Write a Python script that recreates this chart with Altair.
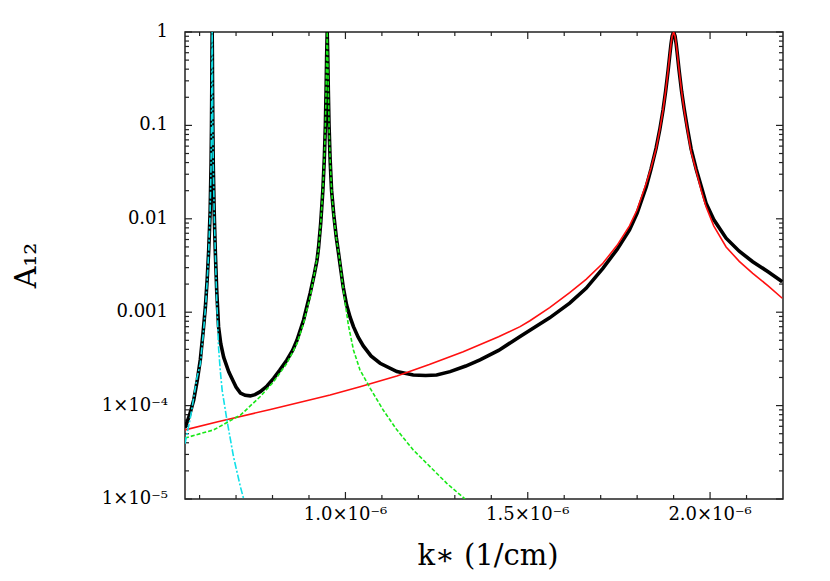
import altair as alt
import pandas as pd

# k in units of 1e-6 (1/cm), A12 dimensionless (log axis)
BLACK_K = [0.560, 0.572, 0.584, 0.594, 0.602, 0.610, 0.616, 0.621, 0.625, 0.629,
           0.6315, 0.6327, 0.6335, 0.634, 0.6345, 0.635, 0.6355, 0.6363, 0.6375, 0.640,
           0.643, 0.647, 0.652, 0.658, 0.666, 0.680, 0.693, 0.700, 0.712, 0.725,
           0.739, 0.752, 0.7665, 0.785, 0.803, 0.820, 0.8395, 0.855, 0.867, 0.885,
           0.9033, 0.915, 0.922, 0.926, 0.932, 0.938, 0.942, 0.945, 0.947, 0.9485,
           0.950, 0.9515, 0.953, 0.955, 0.958, 0.962, 0.968, 0.975, 0.981, 0.987,
           0.994, 1.003, 1.013, 1.022, 1.035, 1.049, 1.070, 1.095, 1.141, 1.186,
           1.220, 1.250, 1.287, 1.330, 1.369, 1.420, 1.479, 1.506, 1.560, 1.615,
           1.660, 1.706, 1.745, 1.779, 1.800, 1.825, 1.838, 1.852, 1.862, 1.871,
           1.878, 1.885, 1.890, 1.893, 1.896, 1.900, 1.904, 1.907, 1.910, 1.915,
           1.922, 1.929, 1.938, 1.948, 1.962, 1.976, 1.989, 2.010, 2.044, 2.080,
           2.117, 2.160, 2.198]
BLACK_A = [5.8e-5, 7.8e-5, 1.15e-4, 1.9e-4, 3.1e-4, 6.3e-4, 1.15e-3, 2.3e-3, 4.6e-3, 0.012,
           0.038, 0.1, 0.26, 0.6, 1.0, 0.6, 0.26, 0.1, 0.038, 0.012,
           4.6e-3, 1.7e-3, 7.0e-4, 4.6e-4, 3.3e-4, 2.3e-4, 1.8e-4, 1.58e-4, 1.36e-4, 1.29e-4,
           1.27e-4, 1.31e-4, 1.41e-4, 1.62e-4, 1.96e-4, 2.4e-4, 3.08e-4, 3.9e-4, 5.0e-4, 8.2e-4,
           1.6e-3, 2.6e-3, 3.6e-3, 4.8e-3, 8.8e-3, 0.02, 0.043, 0.10, 0.24, 0.55,
           1.0, 0.55, 0.24, 0.10, 0.043, 0.02, 0.011, 6.3e-3, 4.3e-3, 2.9e-3,
           1.85e-3, 1.2e-3, 8.8e-4, 7.0e-4, 5.4e-4, 4.35e-4, 3.4e-4, 2.84e-4, 2.31e-4, 2.13e-4,
           2.10e-4, 2.13e-4, 2.31e-4, 2.65e-4, 3.08e-4, 3.9e-4, 5.5e-4, 6.4e-4, 8.7e-4, 1.25e-3,
           1.8e-3, 2.95e-3, 4.7e-3, 7.6e-3, 0.0115, 0.022, 0.034, 0.057, 0.09, 0.146,
           0.23, 0.39, 0.59, 0.75, 0.9, 1.0, 0.9, 0.75, 0.59, 0.39,
           0.23, 0.15, 0.092, 0.056, 0.034, 0.022, 0.0147, 9.8e-3, 6.2e-3, 4.5e-3,
           3.47e-3, 2.7e-3, 2.12e-3]

RED_K = [0.560, 0.650, 0.794, 0.958, 1.040, 1.141, 1.230, 1.323, 1.420, 1.479,
         1.506, 1.560, 1.615, 1.660, 1.706, 1.745, 1.779, 1.800, 1.825, 1.838,
         1.852, 1.862, 1.871, 1.878, 1.885, 1.890, 1.893, 1.896, 1.900, 1.904,
         1.907, 1.910, 1.915, 1.922, 1.929, 1.938, 1.948, 1.962, 1.976, 1.989,
         2.010, 2.044, 2.080, 2.117, 2.160, 2.198]
RED_A = [5.5e-5, 6.7e-5, 9.1e-5, 1.30e-4, 1.59e-4, 2.07e-4, 2.75e-4, 3.78e-4, 5.45e-4, 7.0e-4,
         8.1e-4, 1.12e-3, 1.62e-3, 2.25e-3, 3.34e-3, 5.2e-3, 8.4e-3, 0.0125, 0.024, 0.035,
         0.056, 0.09, 0.146, 0.23, 0.39, 0.59, 0.75, 0.9, 1.0, 0.9,
         0.75, 0.59, 0.39, 0.23, 0.146, 0.088, 0.052, 0.0325, 0.020, 0.0135,
         8.4e-3, 5.0e-3, 3.5e-3, 2.61e-3, 1.9e-3, 1.41e-3]

GREEN_K = [0.560, 0.639, 0.698, 0.712, 0.7665, 0.803, 0.8395, 0.867, 0.885, 0.9033,
           0.917, 0.926, 0.932, 0.938, 0.942, 0.945, 0.947, 0.9485, 0.950, 0.9515,
           0.953, 0.955, 0.958, 0.962, 0.968, 0.975, 0.982, 0.9945, 1.008, 1.022,
           1.040, 1.068, 1.104, 1.141, 1.186, 1.232, 1.278, 1.328]
GREEN_A = [4.5e-5, 5.5e-5, 7.4e-5, 7.9e-5, 1.25e-4, 1.80e-4, 2.84e-4, 4.6e-4, 7.6e-4, 1.47e-3,
           2.83e-3, 4.6e-3, 8.8e-3, 0.02, 0.043, 0.10, 0.24, 0.55, 1.0, 0.55,
           0.24, 0.10, 0.043, 0.02, 0.0105, 6.2e-3, 4.2e-3, 1.7e-3, 7.3e-4, 3.94e-4,
           2.4e-4, 1.53e-4, 8.9e-5, 5.5e-5, 3.35e-5, 2.22e-5, 1.47e-5, 1.0e-5]

CYAN_K = [0.560, 0.575, 0.593, 0.602, 0.610, 0.616, 0.621, 0.625, 0.629, 0.6315,
          0.6327, 0.6335, 0.634, 0.6345, 0.635, 0.6355, 0.6363, 0.6375, 0.640, 0.643,
          0.647, 0.652, 0.657, 0.662, 0.675, 0.693, 0.712, 0.721]
CYAN_A = [3.9e-5, 7.5e-5, 2.0e-4, 2.8e-4, 5.8e-4, 1.1e-3, 2.2e-3, 4.5e-3, 0.012, 0.038,
          0.1, 0.26, 0.6, 1.0, 0.6, 0.26, 0.1, 0.038, 0.012, 4.5e-3,
          1.4e-3, 4.2e-4, 2.3e-4, 1.45e-4, 7.0e-5, 2.84e-5, 1.35e-5, 1.0e-5]

X_DOMAIN = [0.56, 2.2]
Y_DOMAIN = [1e-5, 1.0]
X_MAJOR = [1.0, 1.5, 2.0]
X_LABELS = ["1.0×10⁻⁶", "1.5×10⁻⁶", "2.0×10⁻⁶"]
X_MINOR = [0.6, 0.7, 0.8, 0.9, 1.1, 1.2, 1.3, 1.4, 1.6, 1.7, 1.8, 1.9, 2.1]
Y_MAJOR = [1e-5, 1e-4, 1e-3, 1e-2, 1e-1, 1.0]
Y_LABELS = ["1×10⁻⁵", "1×10⁻⁴", "0.001", "0.01", "0.1", "1"]
Y_MINOR = [m * d for d in [1e-5, 1e-4, 1e-3, 1e-2, 1e-1] for m in range(2, 10)]
X_TITLE = "k∗ (1/cm)"
Y_TITLE = "A₁₂"

W, H = 598, 467
MAJOR_LEN, MINOR_LEN = 7, 4
FONT = "DejaVu Serif"
TICK = "#222222"

xs = alt.Scale(domain=X_DOMAIN, nice=False, zero=False)
ys = alt.Scale(type="log", domain=Y_DOMAIN, nice=False)


def y_ticks(values, length, side):
    df = pd.DataFrame({"A": values})
    x0, x1 = (0, length) if side == "left" else (W - length, W)
    return alt.Chart(df).mark_rule(color=TICK, strokeWidth=1.2).encode(
        y=alt.Y("A:Q", scale=ys, axis=None),
        x=alt.value(x0), x2=alt.value(x1))


def x_ticks(values, length, side):
    df = pd.DataFrame({"k": values})
    y0, y1 = (H - length, H) if side == "bottom" else (0, length)
    return alt.Chart(df).mark_rule(color=TICK, strokeWidth=1.2).encode(
        x=alt.X("k:Q", scale=xs, axis=None),
        y=alt.value(y0), y2=alt.value(y1))


def line_layer(k, a, color, width, dash=None):
    df = pd.DataFrame({"k": k, "A": a})
    kw = dict(color=color, strokeWidth=width, clip=True)
    if dash:
        kw["strokeDash"] = dash
    return alt.Chart(df).mark_line(**kw).encode(
        x=alt.X("k:Q", scale=xs, axis=None),
        y=alt.Y("A:Q", scale=ys, axis=None))


# tick labels as text placed through the same scales
y_labels = alt.Chart(pd.DataFrame({"A": Y_MAJOR, "lab": Y_LABELS})).mark_text(
    font=FONT, fontSize=18, color="#000", align="right", baseline="middle"
).encode(y=alt.Y("A:Q", scale=ys, axis=None), x=alt.value(-17), text="lab:N")

x_labels = alt.Chart(pd.DataFrame({"k": X_MAJOR, "lab": X_LABELS})).mark_text(
    font=FONT, fontSize=18, color="#000", align="center", baseline="top"
).encode(x=alt.X("k:Q", scale=xs, axis=None), y=alt.value(H + 7), text="lab:N")

x_title = alt.Chart(pd.DataFrame({"t": [X_TITLE]})).mark_text(
    font=FONT, fontSize=29, color="#000", align="center", baseline="alphabetic"
).encode(x=alt.value(303), y=alt.value(H + 66), text="t:N")

y_title = alt.Chart(pd.DataFrame({"t": [Y_TITLE]})).mark_text(
    font=FONT, fontSize=30, color="#000", align="center", baseline="middle",
    angle=270
).encode(x=alt.value(-158), y=alt.value(H / 2), text="t:N")

layers = []
for side in ["left", "right"]:
    layers.append(y_ticks(Y_MAJOR, MAJOR_LEN, side))
    layers.append(y_ticks(Y_MINOR, MINOR_LEN, side))
for side in ["bottom", "top"]:
    layers.append(x_ticks(X_MAJOR, MAJOR_LEN, side))
    layers.append(x_ticks(X_MINOR, MINOR_LEN, side))
layers += [
    line_layer(BLACK_K, BLACK_A, "#000000", 3.6),
    line_layer(RED_K, RED_A, "#ff1010", 1.6),
    line_layer(GREEN_K, GREEN_A, "#18e818", 1.6, [4, 2]),
    line_layer(CYAN_K, CYAN_A, "#10e0e8", 1.6, [7, 2, 2, 2]),
    y_labels, x_labels, x_title, y_title,
]

chart = alt.layer(*layers).properties(
    width=W, height=H,
    autosize=alt.AutoSizeParams(type="none"),
    padding={"left": 177, "top": 24, "right": 25, "bottom": 75},
).configure_view(stroke="#222222", strokeWidth=1.5)

chart.save("out.html", embed_options={"renderer": "svg", "actions": False})
